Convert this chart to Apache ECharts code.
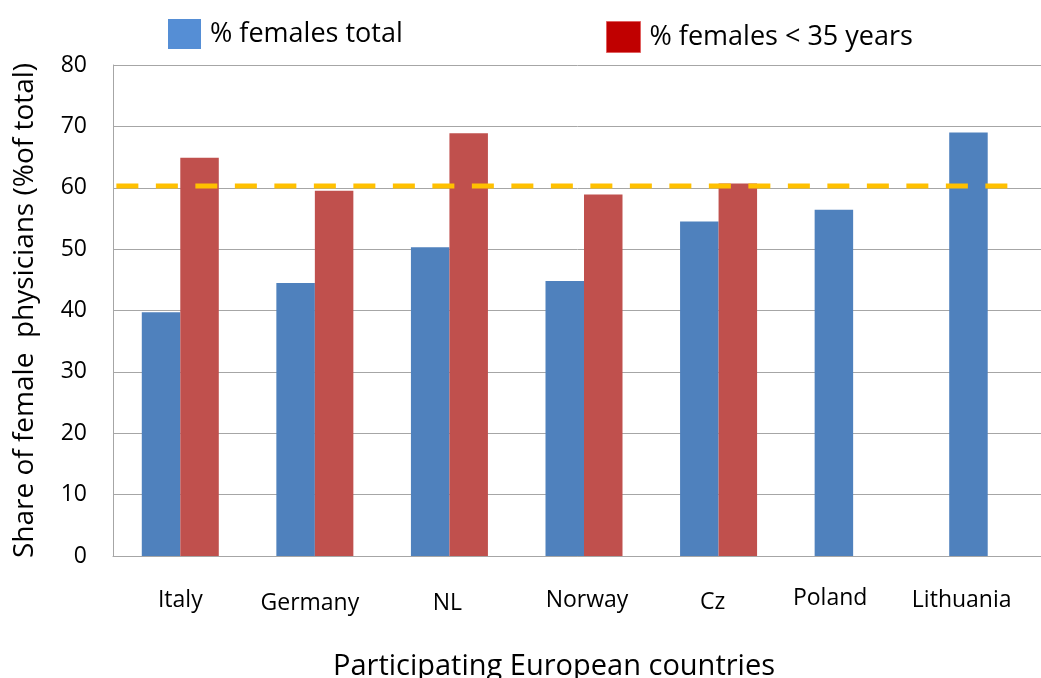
<!DOCTYPE html>
<html>
<head>
<meta charset="utf-8">
<script src="https://cdn.jsdelivr.net/npm/echarts@6/dist/echarts.min.js"></script>
<style>html,body{margin:0;padding:0;background:#fff;}#c{width:1041px;height:678px;}</style>
</head>
<body>
<div id="c"></div>
<script>
var categories = ['Italy', 'Germany', 'NL', 'Norway', 'Cz', 'Poland', 'Lithuania'];
var femalesTotal = [39.7, 44.5, 50.3, 44.8, 54.5, 56.4, 69.0];
var femalesUnder35 = [64.9, 59.5, 68.9, 58.9, 60.7, null, null];
var yTicks = [0, 10, 20, 30, 40, 50, 60, 70, 80];
var refValue = 60.3;
var refSpan = [-0.475, 6.15];

// label placement nudges (style only), in px
var labelShiftX = [0, -5, -2, 3, -6, -23, -26];
var labelShiftY = [2, 5, 5, 2, 4, 0, 2];

var FONT = 'Open Sans';
var rich = {};
categories.forEach(function (c, i) {
  var dx = labelShiftX[i], dy = labelShiftY[i];
  rich['l' + i] = {
    fontFamily: FONT, fontSize: 23, color: '#000',
    padding: [dy, Math.max(0, -2 * dx), 0, Math.max(0, 2 * dx)]
  };
});

var chart = echarts.init(document.getElementById('c'));
chart.setOption({
  animation: false,
  backgroundColor: '#ffffff',
  legend: [
    {
      left: 163, top: 14, itemWidth: 33, itemHeight: 30, itemGap: 0,
      textStyle: {fontFamily: FONT, fontSize: 27, color: '#000', padding: [0, 0, 0, 4]},
      data: [{name: '% females total', icon: 'rect', itemStyle: {color: '#558ED5'}}]
    },
    {
      left: 601, top: 16, itemWidth: 34, itemHeight: 31, itemGap: 0,
      textStyle: {fontFamily: FONT, fontSize: 27, color: '#000', padding: [0, 0, 0, 4]},
      data: [{name: '% females < 35 years', icon: 'rect', itemStyle: {color: '#C00000', borderColor: '#E06060', borderWidth: 1}}]
    }
  ],
  grid: {left: 113, top: 65, height: 491, width: 942, containLabel: false, outerBoundsMode: 'none'},
  xAxis: [
    {
      type: 'category',
      data: categories,
      axisLine: {show: true, lineStyle: {color: '#A6A6A6', width: 1}},
      axisTick: {show: false},
      axisLabel: {
        interval: 0, hideOverlap: false,
        fontFamily: FONT, fontSize: 23, color: '#000', margin: 31,
        formatter: function (v, i) { return '{l' + i + '|' + v + '}'; },
        rich: rich
      },
      name: 'Participating European countries',
      nameLocation: 'middle',
      nameGap: 96,
      nameTextStyle: {fontFamily: FONT, fontSize: 29, color: '#000', padding: [0, 60, 0, 0]}
    },
    {
      type: 'value', min: -0.5, max: 6.5, show: false
    }
  ],
  yAxis: {
    type: 'value',
    min: yTicks[0], max: yTicks[yTicks.length - 1], interval: 10,
    axisLine: {show: true, onZero: false, lineStyle: {color: '#A6A6A6', width: 1}},
    axisTick: {show: false},
    splitLine: {lineStyle: {color: '#A6A6A6', width: 1}},
    axisLabel: {fontFamily: FONT, fontSize: 23, color: '#000', margin: 26},
    name: 'Share of female  physicians (%of total)',
    nameLocation: 'middle',
    nameGap: 74,
    nameTextStyle: {fontFamily: FONT, fontSize: 28, color: '#000'}
  },
  series: [
    {
      name: '% females total', type: 'bar', data: femalesTotal,
      barWidth: 38.5, barGap: '0%',
      itemStyle: {color: '#4F81BD'}
    },
    {
      name: '% females < 35 years', type: 'bar', data: femalesUnder35,
      barWidth: 38.5, barGap: '0%',
      itemStyle: {color: '#C0504D'}
    },
    {
      type: 'line', xAxisIndex: 1, symbol: 'none', silent: true,
      data: [[refSpan[0], refValue], [refSpan[1], refValue]],
      lineStyle: {color: '#FFC000', width: 5, type: [22, 17.5]},
      z: 5
    }
  ]
});
</script>
</body>
</html>
